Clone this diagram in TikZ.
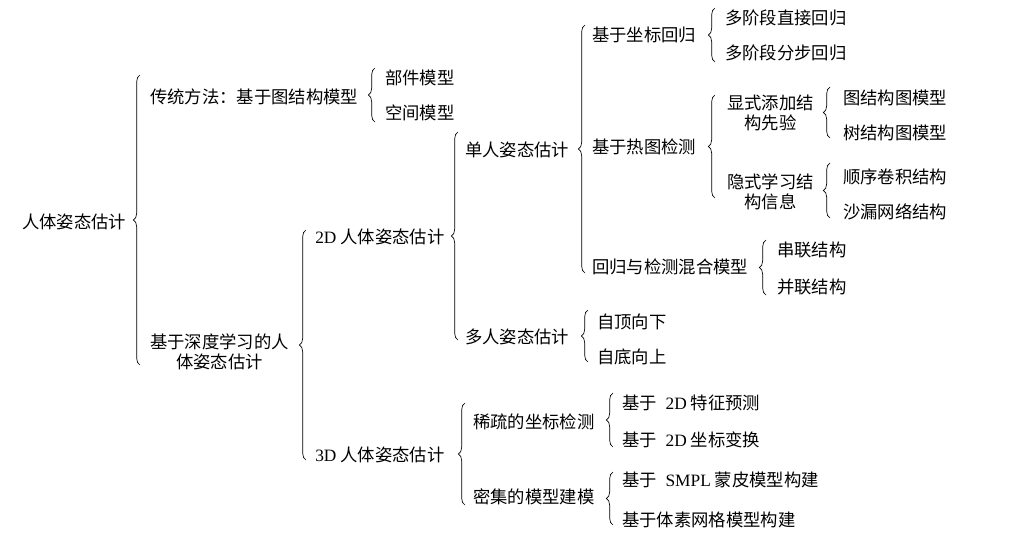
\documentclass[tikz,border=0pt]{standalone}
\usepackage{fontspec}
\setmainfont{Liberation Serif}
\newfontfamily\cjk{Noto Sans CJK SC}
\usetikzlibrary{decorations.pathreplacing}
\newcommand{\lat}[1]{{\rmfamily #1}}

\begin{document}
\begin{tikzpicture}[x=0.75pt,y=-0.75pt,
	lbl/.style={font=\cjk\fontsize{13pt}{15pt}\selectfont, inner sep=0pt, anchor=west, align=center},
	brc/.style={decorate, decoration={brace, amplitude=5pt}, line width=0.5pt}]
	\useasboundingbox (0,0) rectangle (1034,549);
	% first level
	\node[lbl] (root) at (22,222) {人体姿态估计};
	\node[lbl] (trad) at (150,97) {传统方法：基于图结构模型};
	\node[lbl] (part) at (385,78) {部件模型};
	\node[lbl] (space) at (385,113) {空间模型};
	\node[lbl] (deep) at (150,352) {基于深度学习的人\\体姿态估计};
	% 2D branch
	\node[lbl] (twod) at (315,237) {\lat{2D} 人体姿态估计};
	\node[lbl] (single) at (465,150) {单人姿态估计};
	\node[lbl] (coord) at (592,35) {基于坐标回归};
	\node[lbl] (direct) at (725,18) {多阶段直接回归};
	\node[lbl] (stepwise) at (725,53) {多阶段分步回归};
	\node[lbl] (heat) at (592,147) {基于热图检测};
	\node[lbl] (expl) at (727,112.5) {显式添加结\\构先验};
	\node[lbl] (graph) at (843,98) {图结构图模型};
	\node[lbl] (tree) at (843,133) {树结构图模型};
	\node[lbl] (impl) at (727,192) {隐式学习结\\构信息};
	\node[lbl] (seqconv) at (843,177) {顺序卷积结构};
	\node[lbl] (hourglass) at (843,212) {沙漏网络结构};
	\node[lbl] (hybrid) at (592,267) {回归与检测混合模型};
	\node[lbl] (serial) at (777,250) {串联结构};
	\node[lbl] (parallel) at (777,287) {并联结构};
	\node[lbl] (multi) at (465,337) {多人姿态估计};
	\node[lbl] (topdown) at (597,322) {自顶向下};
	\node[lbl] (bottomup) at (597,357) {自底向上};
	% 3D branch
	\node[lbl] (threed) at (315,455) {\lat{3D} 人体姿态估计};
	\node[lbl] (sparse) at (473,422) {稀疏的坐标检测};
	\node[lbl] (feat) at (622,403) {基于\enspace\lat{2D} 特征预测};
	\node[lbl] (trans) at (622,440) {基于\enspace\lat{2D} 坐标变换};
	\node[lbl] (dense) at (473,497) {密集的模型建模};
	\node[lbl] (smpl) at (622,480) {基于\enspace\lat{SMPL} 蒙皮模型构建};
	\node[lbl] (voxel) at (622,520) {基于体素网格模型构建};
	% braces: x of the stem / top / bottom
	\foreach \x/\t/\b in {137/75/365, 372/68/122, 303/230/460, 455/132/340,
		582/25/273, 712/8/62, 712/95/198, 827/87/138, 827/163/218,
		763/240/295, 585/310/362, 462/403/505, 610/393/447, 610/472/525}
		\draw[brc] (\x+3,\b) -- (\x+3,\t);
\end{tikzpicture}
\end{document}
